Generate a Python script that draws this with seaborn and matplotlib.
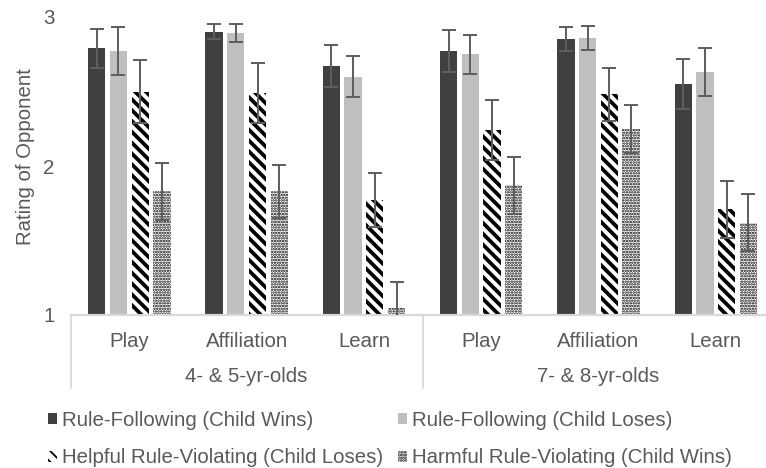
# Bibliotecas

import pandas as pd
import matplotlib
matplotlib.use('Agg')
import matplotlib.pyplot as plt
import seaborn as sns
from matplotlib.patches import Patch

# Dados

faixas = ['4- & 5-yr-olds', '7- & 8-yr-olds']
medidas = ['Play', 'Affiliation', 'Learn']
condicoes = ['Rule-Following (Child Wins)', 'Rule-Following (Child Loses)',
             'Helpful Rule-Violating (Child Loses)', 'Harmful Rule-Violating (Child Wins)']

rf_wins = [2.79, 2.90, 2.67, 2.77, 2.85, 2.55]
rf_loses = [2.77, 2.89, 2.60, 2.75, 2.86, 2.63]
help_viol = [2.50, 2.49, 1.77, 2.24, 2.48, 1.71]
harm_viol = [1.83, 1.83, 1.05, 1.87, 2.25, 1.62]

rf_wins_err = [0.13, 0.05, 0.14, 0.14, 0.08, 0.17]
rf_loses_err = [0.16, 0.06, 0.14, 0.13, 0.08, 0.16]
help_viol_err = [0.21, 0.20, 0.18, 0.20, 0.18, 0.19]
harm_viol_err = [0.19, 0.18, 0.17, 0.19, 0.16, 0.19]

valores = [rf_wins, rf_loses, help_viol, harm_viol]
erros = [rf_wins_err, rf_loses_err, help_viol_err, harm_viol_err]

# Tabela longa para o seaborn

grupos = [f + ' | ' + m for f in faixas for m in medidas]
linhas = []
for c, vals in zip(condicoes, valores):
    for g, v in zip(grupos, vals):
        linhas.append({'grupo': g, 'condicao': c, 'nota': v})
df = pd.DataFrame(linhas)

# Estilo

cinza_texto = '#595959'
cinza_linha = '#D9D9D9'
cores = ['#404040', '#BFBFBF', 'white', 'white']
hachuras = [None, None, '\\\\\\\\', '........']
larg_hachura = [1, 1, 2.1, 0.9]

sns.set_style('white')
plt.rcParams['font.family'] = ['Liberation Sans', 'DejaVu Sans']
plt.rcParams['hatch.color'] = 'black'


def aplica_hachura(p, i):
    # estilo de cada serie (cor, hachura e espessura da hachura)
    p.set_facecolor(cores[i])
    if hachuras[i]:
        p.set_hatch(hachuras[i])
        p.set_edgecolor('black')
        p.set_linewidth(0)
        if hasattr(p, 'set_hatch_linewidth'):
            p.set_hatch_linewidth(larg_hachura[i])
    else:
        p.set_edgecolor('none')


DPI = 130
fig = plt.figure(figsize=(766 / DPI, 468 / DPI), dpi=DPI)
ax = fig.add_axes([70.7 / 766, 1 - 315 / 468, 1 - 70.7 / 766, 298 / 468])

sns.barplot(data=df, x='grupo', y='nota', hue='condicao', order=grupos,
            hue_order=condicoes, palette=cores, width=0.74, gap=0.2,
            legend=False, ax=ax, errorbar=None)

# Hachuras e barras de erro

barras = list(ax.containers)
for i, cont in enumerate(barras):
    xs = []
    for p in cont.patches:
        if not hasattr(p, 'set_hatch_linewidth'):
            plt.rcParams['hatch.linewidth'] = larg_hachura[i]
        aplica_hachura(p, i)
        xs.append(p.get_x() + p.get_width() / 2)
    ax.errorbar(xs, valores[i], yerr=erros[i], fmt='none', ecolor='#5f5f5f',
                elinewidth=1.1, capsize=3.8, capthick=1.1, zorder=5)

ax.set_ylim(1, 3)
ax.set_xlim(-0.5, -0.5 + (766 - 70.7) / 117.3)
ax.set_yticks([1, 2, 3])
ax.set_xticks(range(6))
ax.set_xticklabels(medidas * 2)
ax.tick_params(axis='both', length=0, labelsize=11.3, colors=cinza_texto)
ax.tick_params(axis='y', pad=9)
ax.tick_params(axis='x', pad=9.5)
ax.set_xlabel('')
ax.set_ylabel('Rating of Opponent', fontsize=11.3, color=cinza_texto)
ax.yaxis.set_label_coords(-0.052, 0.53)

for s in ['top', 'right', 'left']:
    ax.spines[s].set_visible(False)
ax.spines['bottom'].set_color(cinza_linha)
ax.spines['bottom'].set_linewidth(1.2)

# Rotulos das faixas etarias e separadores

trans = ax.get_xaxis_transform()
for k, f in enumerate(faixas):
    ax.text(1 + 3 * k, -0.207, f, transform=trans, ha='center', va='center',
            fontsize=11.3, color=cinza_texto)
for xsep in [-0.5, 2.5, 5.5]:
    ax.plot([xsep, xsep], [0, -0.245], transform=trans, color=cinza_linha,
            lw=1.0, clip_on=False)

# Legenda (ordem por linhas: as duas "Rule-Following" em cima)

handles = []
for i, c in enumerate(condicoes):
    h = Patch(label=c)
    aplica_hachura(h, i)
    handles.append(h)
handles = [handles[0], handles[2], handles[1], handles[3]]
fig.legend(handles=handles, loc='upper left', bbox_to_anchor=(48 / 766, 1 - 411 / 468),
           ncol=2, frameon=False, fontsize=11.3, labelcolor=cinza_texto,
           handlelength=0.45, handleheight=0.45, handletextpad=0.25,
           columnspacing=0.7, labelspacing=0.9, borderpad=0, borderaxespad=0)

fig.savefig('out.png', dpi=DPI)
